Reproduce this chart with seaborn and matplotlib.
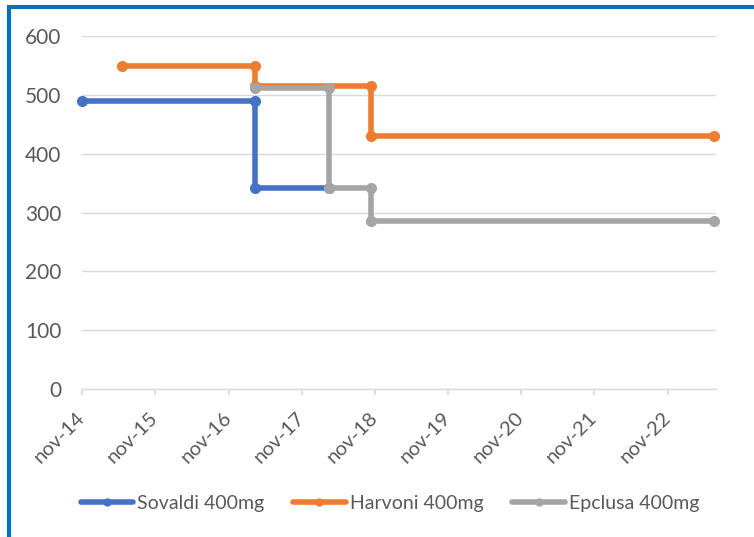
import numpy as np
import pandas as pd
import matplotlib
matplotlib.use("Agg")
import matplotlib.pyplot as plt
import matplotlib.dates as mdates
from matplotlib.lines import Line2D
from matplotlib.ticker import FuncFormatter, MultipleLocator
import seaborn as sns

# Step-wise price data (each change repeated at same date to form steps)
sovaldi_dates = ["2014-11-01", "2017-03-15", "2017-03-15", "2018-03-17"]
sovaldi_prices = [489, 489, 341, 341]

harvoni_dates = ["2015-05-20", "2017-03-15", "2017-03-15", "2018-10-13", "2018-10-13", "2023-06-21"]
harvoni_prices = [549, 549, 515, 515, 429, 429]

epclusa_dates = ["2017-03-15", "2018-03-17", "2018-03-17", "2018-10-13", "2018-10-13", "2023-06-21"]
epclusa_prices = [512, 512, 341, 341, 286, 286]

series_names = ["Sovaldi 400mg", "Harvoni 400mg", "Epclusa 400mg"]
series_colors = ["#4472C4", "#ED7D31", "#A5A5A5"]

frames = []
for name, dates, prices in zip(series_names,
                               [sovaldi_dates, harvoni_dates, epclusa_dates],
                               [sovaldi_prices, harvoni_prices, epclusa_prices]):
    frames.append(pd.DataFrame({"date": pd.to_datetime(dates), "price": prices, "drug": name}))
df = pd.concat(frames, ignore_index=True)

sns.set_theme(style="white")
plt.rcParams["font.family"] = ["Lato", "DejaVu Sans"]

fig = plt.figure(figsize=(7.54, 5.37), dpi=100)
ax = fig.add_axes([0.1088, 0.275, 0.9496 - 0.1088, 0.9335 - 0.275])

sns.lineplot(data=df, x="date", y="price", hue="drug", hue_order=series_names,
             palette=series_colors, sort=False, estimator=None, marker="o",
             markersize=8, markeredgewidth=0, linewidth=4, ax=ax,
             legend=False)
for line in ax.lines:
    line.set_clip_on(False)
    line.set_solid_capstyle("butt")

ax.set_ylim(0, 600)
ax.yaxis.set_major_locator(MultipleLocator(100))
ax.set_xlim(pd.Timestamp("2014-11-01"), pd.Timestamp("2023-07-01"))
ax.xaxis.set_major_locator(mdates.YearLocator(base=1, month=11, day=1))
ax.xaxis.set_major_formatter(FuncFormatter(lambda v, p: mdates.num2date(v).strftime("%b-%y").lower()))

ax.grid(axis="y", color="#D9D9D9", linewidth=1)
ax.set_axisbelow(True)
for side in ["top", "right", "left"]:
    ax.spines[side].set_visible(False)
ax.spines["bottom"].set_color("#D9D9D9")
ax.spines["bottom"].set_linewidth(1)
ax.tick_params(axis="x", which="major", bottom=True, length=4.5, color="#D9D9D9",
               labelsize=14.5, labelcolor="#595959", pad=14)
ax.tick_params(axis="y", left=False, labelsize=15, labelcolor="#595959", pad=9)
plt.setp(ax.get_xticklabels(), rotation=45, ha="right", va="center", rotation_mode="anchor")
ax.set_xlabel("")
ax.set_ylabel("")

handles = [Line2D([0], [0], color=c, linewidth=4, marker="o", markersize=6, markeredgewidth=0)
           for c in series_colors]
fig.legend(handles, series_names, loc="center", bbox_to_anchor=(0.517, 0.063), ncol=3,
           frameon=False, fontsize=14, handlelength=2.7, handletextpad=0.2,
           columnspacing=1.5, labelcolor="#595959")

# Blue frame (top and left edges visible in the crop)
fig.add_artist(Line2D([7 / 754, 1], [1 - 7 / 537, 1 - 7 / 537], transform=fig.transFigure,
                      color="#0070C0", linewidth=3, solid_capstyle="butt"))
fig.add_artist(Line2D([9 / 754, 9 / 754], [0, 1 - 5 / 537], transform=fig.transFigure,
                      color="#0070C0", linewidth=3, solid_capstyle="butt"))

fig.savefig("out.png", dpi=100)
